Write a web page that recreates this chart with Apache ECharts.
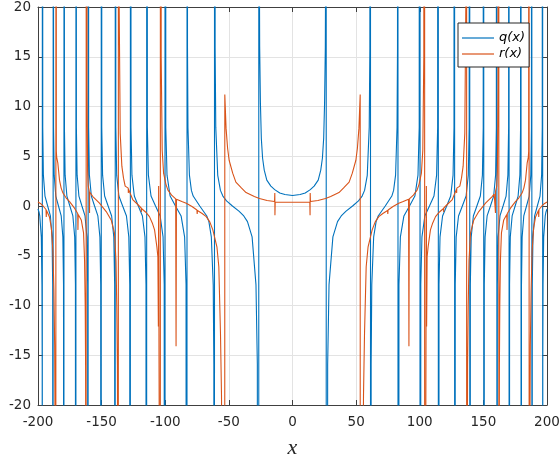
<!DOCTYPE html>
<html><head><meta charset="utf-8">
<script src="https://cdn.jsdelivr.net/npm/echarts@6/dist/echarts.min.js"></script>
<style>html,body{margin:0;padding:0;background:#fff}#c{width:560px;height:460px}</style>
</head><body><div id="c"></div>
<script>
const xTicks = [-200, -150, -100, -50, 0, 50, 100, 150, 200];
const yTicks = [-20, -15, -10, -5, 0, 5, 10, 15, 20];
const seriesNames = ['q(x)', 'r(x)'];

// q(x), x < 0 (+-300 marks a pole jump)
const qNeg = [
[-200,-0.3],[-199.2,-0.6],[-198.6,-1.0],[-197.4,-3.1],[-196.9,-7.9],[-196.7,-16],[-196.62,-300],
[-196.58,300],[-196.27,7.9],[-195.77,3.1],[-194.51,1.0],[-192.40,0],[-190.26,-1.0],[-188.97,-3.1],[-188.45,-7.9],[-188.12,-300],
[-188.08,300],[-187.77,7.9],[-187.27,3.1],[-186.01,1.0],[-183.90,0],[-181.76,-1.0],[-180.47,-3.1],[-179.95,-7.9],[-179.62,-300],
[-179.58,300],[-179.23,7.9],[-178.68,3.1],[-177.30,1.0],[-174.96,0],[-172.60,-1.0],[-171.16,-3.1],[-170.59,-7.9],[-170.22,-300],
[-170.18,300],[-169.83,7.9],[-169.26,3.1],[-167.85,1.0],[-165.47,0],[-163.05,-1.0],[-161.59,-3.1],[-160.99,-7.9],[-160.62,-300],
[-160.58,300],[-160.20,7.9],[-159.60,3.1],[-158.09,1.0],[-155.54,0],[-152.94,-1.0],[-151.36,-3.1],[-150.73,-7.9],[-150.32,-300],
[-150.28,300],[-149.88,7.9],[-149.24,3.1],[-147.63,1.0],[-144.90,0],[-142.13,-1.0],[-140.44,-3.1],[-139.76,-7.9],[-139.32,-300],
[-139.28,300],[-138.84,7.9],[-138.16,3.1],[-136.42,1.0],[-133.48,0],[-130.48,-1.0],[-128.64,-3.1],[-127.90,-7.9],[-127.42,-300],
[-127.38,300],[-126.91,7.9],[-126.18,3.1],[-124.32,1.0],[-121.17,0],[-117.93,-1.0],[-115.94,-3.1],[-115.14,-7.9],[-114.62,-300],
[-114.58,300],[-114.06,7.9],[-113.24,3.1],[-111.18,1.0],[-107.64,0],[-103.99,-1.0],[-101.73,-3.1],[-100.82,-7.9],[-100.22,-300],
[-100.18,300],[-99.57,7.9],[-98.61,3.1],[-96.17,1.0],[-91.96,0],[-87.55,-1.0],[-84.79,-3.1],[-83.66,-7.9],[-82.92,-300],
[-82.88,300],[-82.52,15.9],[-82.15,7.9],[-81.00,3.1],[-79.45,1.57],[-78.06,1.0],[-72.90,0],[-67.35,-1.0],[-65.71,-1.57],[-63.79,-3.1],[-62.31,-7.9],[-61.81,-15.9],[-61.32,-300],
[-61.28,300],[-60.80,15.9],[-60.29,7.9],[-58.75,3.08],[-56.64,1.57],[-54.72,1.0],[-51.85,0.51],[-47.22,0],[-42.09,-0.51],[-38.29,-1.0],[-35.39,-1.57],[-31.75,-3.1],[-28.71,-7.9],[-27.63,-15.9],[-26.52,-300],
[-26.48,300],[-26.2,30],[-25.8,16],[-25.2,10.3],[-24.5,6.8],[-23.5,4.8],[-22.2,3.6],[-20.2,2.6],[-17,2.0],[-14,1.65],[-10,1.3],[-6,1.15],[0,1.05]
];
// q(x), x > 0
const qPos = [
[6,1.15],[10,1.3],[14,1.65],[17,2.0],[20.2,2.6],[22.2,3.6],[23.5,4.8],[24.5,6.8],[25.2,10.3],[25.8,16],[26.2,30],[26.48,300],
[26.52,-300],[27.63,-15.9],[28.71,-7.9],[31.75,-3.1],[35.39,-1.57],[38.29,-1.0],[42.09,-0.51],[47.22,0],[51.85,0.51],[54.72,1.0],[56.64,1.57],[58.75,3.08],[60.29,7.9],[60.80,15.9],[61.28,300],
[61.32,-300],[61.81,-15.9],[62.31,-7.9],[63.79,-3.1],[65.71,-1.57],[67.35,-1.0],[72.90,0],[78.06,1.0],[79.45,1.57],[81.00,3.1],[82.15,7.9],[82.52,15.9],[82.88,300],
[82.92,-300],[83.66,-7.9],[84.79,-3.1],[87.55,-1.0],[91.96,0],[96.17,1.0],[98.61,3.1],[99.57,7.9],[100.18,300],
[100.22,-300],[100.82,-7.9],[101.73,-3.1],[103.99,-1.0],[107.64,0],[111.18,1.0],[113.24,3.1],[114.06,7.9],[114.58,300],
[114.62,-300],[115.14,-7.9],[115.94,-3.1],[117.93,-1.0],[121.17,0],[124.32,1.0],[126.18,3.1],[126.91,7.9],[127.38,300],
[127.42,-300],[127.90,-7.9],[128.64,-3.1],[130.48,-1.0],[133.48,0],[136.42,1.0],[138.16,3.1],[138.84,7.9],[139.28,300],
[139.32,-300],[139.76,-7.9],[140.44,-3.1],[142.13,-1.0],[144.90,0],[147.63,1.0],[149.24,3.1],[149.88,7.9],[150.28,300],
[150.32,-300],[150.73,-7.9],[151.36,-3.1],[152.94,-1.0],[155.54,0],[158.09,1.0],[159.60,3.1],[160.20,7.9],[160.58,300],
[160.62,-300],[160.99,-7.9],[161.59,-3.1],[163.05,-1.0],[165.47,0],[167.85,1.0],[169.26,3.1],[169.83,7.9],[170.18,300],
[170.22,-300],[170.59,-7.9],[171.16,-3.1],[172.60,-1.0],[174.96,0],[177.30,1.0],[178.68,3.1],[179.23,7.9],[179.58,300],
[179.62,-300],[179.95,-7.9],[180.47,-3.1],[181.76,-1.0],[183.90,0],[186.01,1.0],[187.27,3.1],[187.77,7.9],[188.08,300],
[188.12,-300],[188.45,-7.9],[188.97,-3.1],[190.26,-1.0],[192.40,0],[194.51,1.0],[195.77,3.1],[196.27,7.9],[196.58,300],
[196.62,-300],[196.7,-16],[196.9,-7.9],[197.4,-3.1],[198.6,-1.0],[199.2,-0.6],[200,-0.3]
];
// r(x), x < 0
const rNeg = [
[-200,0.4],[-197.5,0.2],[-195.7,-0.05],[-193.7,-0.35],[-193.5,-1.1],[-193.3,-0.45],[-191,-1.1],[-189.5,-2.2],[-188.3,-4.5],[-187.5,-8.5],[-186.9,-14],[-186.5,-25],[-186.1,-300],
[-185.8,300],[-185.6,5.5],[-185.3,4.9],[-184.4,4.3],[-183.1,2.6],[-181.8,1.8],[-180.4,1.3],[-177.8,0.8],[-175.2,0.44],[-171.3,-0.22],[-168.8,-0.75],[-168.6,-2.4],[-168.4,-0.85],[-166,-1.4],[-164.2,-2.7],[-163.4,-5.5],[-162.9,-10],[-162.6,-16],[-162.4,-30],[-162.3,-300],
[-162.0,300],[-161.5,12],[-161.0,3.5],[-160.5,2.0],[-159.8,1.55],[-159.6,1.5],[-159.5,-0.7],[-159.4,1.4],[-158.5,1.2],[-156.9,0.95],[-151.7,0.28],[-146.4,-0.56],[-142.5,-1.4],[-139.9,-2.7],[-138.7,-5.5],[-138.1,-10],[-137.6,-16],[-137.3,-30],[-137.0,-300],
[-136.7,300],[-136.2,20],[-135.4,7.3],[-134.1,4],[-132.8,2.8],[-131.5,2.0],[-130.3,1.85],[-129.1,1.8],[-129.0,1.3],[-128.9,1.7],[-125.4,0.61],[-122,0.2],[-118.9,-0.2],[-118.8,-0.6],[-118.7,-0.25],[-115.5,-0.6],[-112.4,-1.07],[-110.2,-1.7],[-108.4,-2.4],[-106.6,-4.1],[-105.8,-5.1],[-105.4,-12.1],[-105.2,2.0],[-104.9,-15],[-104.3,-40],[-104.0,-300],
[-103.7,300],[-103.2,15],[-102.4,5.6],[-101.3,3.3],[-99.5,2.2],[-97.9,1.6],[-95,1.1],[-91.8,0.72],[-91.5,-14.1],[-91.2,0.68],[-87,0.45],[-83.5,0.28],[-79,-0.05],[-75.1,-0.4],[-74.9,-0.8],[-74.7,-0.45],[-71,-0.75],[-67.8,-1.07],[-65,-1.6],[-62.6,-2.4],[-59.4,-4.1],[-57.9,-6.1],[-56.6,-12.8],[-55.8,-19],[-54.8,-40],[-53.4,-200],
[-53.2,11.2],[-52.2,7.8],[-51,5.8],[-49.8,4.6],[-47,3.3],[-44.5,2.4],[-40,1.8],[-36.5,1.35],[-30,0.95],[-26,0.75],[-20,0.55],[-14.1,0.45],[-13.9,1.3],[-13.8,-0.93],[-13.6,0.4],[-7,0.38],[0,0.38]
];
// r(x), x > 0
const rPos = [
[7,0.38],[13.6,0.4],[13.8,-0.93],[13.9,1.3],[14.1,0.45],[20,0.55],[26,0.75],[30,0.95],[36.5,1.35],[40,1.8],[44.5,2.4],[47,3.3],[49.8,4.6],[51,5.8],[52.2,7.8],[53.2,11.2],
[53.4,-200],[54.8,-40],[55.8,-19],[56.6,-12.8],[57.9,-6.1],[59.4,-4.1],[62.6,-2.4],[65,-1.6],[67.8,-1.07],[71,-0.75],[74.7,-0.45],[74.9,-0.8],[75.1,-0.4],[79,-0.05],[83.5,0.28],[87,0.45],[91.2,0.68],[91.5,-14.1],[91.8,0.72],[95,1.1],[97.9,1.6],[99.5,2.2],[101.3,3.3],[102.4,5.6],[103.2,15],[103.7,300],
[104.0,-300],[104.3,-40],[104.9,-15],[105.2,2.0],[105.4,-12.1],[105.8,-5.1],[106.6,-4.1],[108.4,-2.4],[110.2,-1.7],[112.4,-1.07],[115.5,-0.6],[118.7,-0.25],[118.8,-0.6],[118.9,-0.2],[122,0.2],[125.4,0.61],[128.9,1.7],[129.0,1.3],[129.1,1.8],[130.3,1.85],[131.5,2.0],[132.8,2.8],[134.1,4],[135.4,7.3],[136.2,20],[136.7,300],
[137.0,-300],[137.3,-30],[137.6,-16],[138.1,-10],[138.7,-5.5],[139.9,-2.7],[142.5,-1.4],[146.4,-0.56],[151.7,0.28],[156.9,0.95],[158.5,1.2],[159.4,1.4],[159.5,-0.7],[159.6,1.5],[159.8,1.55],[160.5,2.0],[161.0,3.5],[161.5,12],[162.0,300],
[162.3,-300],[162.4,-30],[162.6,-16],[162.9,-10],[163.4,-5.5],[164.2,-2.7],[166,-1.4],[168.4,-0.85],[168.6,-2.4],[168.8,-0.75],[171.3,-0.22],[175.2,0.44],[177.8,0.8],[180.4,1.3],[181.8,1.8],[183.1,2.6],[184.4,4.3],[185.3,4.9],[185.6,5.5],[185.8,300],
[186.1,-300],[186.5,-25],[186.9,-14],[187.5,-8.5],[188.3,-4.5],[189.5,-2.2],[191,-1.1],[193.3,-0.45],[193.5,-1.1],[193.7,-0.35],[195.7,-0.05],[197.5,0.2],[200,0.4]
];

const qColor = '#0072BD', rColor = '#D95319';
const axisColor = '#404040', textColor = '#262626', gridColor = '#e3e3e3';
const font = 'DejaVu Sans';

function axisBase(extra) {
  return Object.assign({
    type: 'value',
    axisLine: { show: true, onZero: false, lineStyle: { color: axisColor, width: 1 } },
    axisTick: { show: true, inside: true, length: 5, lineStyle: { color: axisColor, width: 1 } }
  }, extra);
}

const chart = echarts.init(document.getElementById('c'), null, { renderer: 'canvas' });
chart.setOption({
  animation: false,
  backgroundColor: '#fff',
  grid: { left: 38, top: 7, width: 509, height: 398, containLabel: false, outerBoundsMode: 'none' },
  xAxis: [
    axisBase({
      min: xTicks[0], max: xTicks[xTicks.length - 1], interval: xTicks[1] - xTicks[0], position: 'bottom',
      axisLabel: { color: textColor, fontSize: 13.5, fontFamily: font, margin: 10 },
      splitLine: { show: true, lineStyle: { color: gridColor, width: 1 } },
      name: 'x', nameLocation: 'middle', nameGap: 32,
      nameTextStyle: { fontFamily: 'Liberation Serif', fontStyle: 'italic', fontSize: 22, color: textColor }
    }),
    axisBase({
      min: xTicks[0], max: xTicks[xTicks.length - 1], interval: xTicks[1] - xTicks[0], position: 'top',
      axisLabel: { show: false }, splitLine: { show: false }
    })
  ],
  yAxis: [
    axisBase({
      min: yTicks[0], max: yTicks[yTicks.length - 1], interval: yTicks[1] - yTicks[0], position: 'left',
      axisLabel: { color: textColor, fontSize: 13.5, fontFamily: font, margin: 7 },
      splitLine: { show: true, lineStyle: { color: gridColor, width: 1 } }
    }),
    axisBase({
      min: yTicks[0], max: yTicks[yTicks.length - 1], interval: yTicks[1] - yTicks[0], position: 'right',
      axisLabel: { show: false }, splitLine: { show: false }
    })
  ],
  legend: {
    data: seriesNames, orient: 'vertical', left: 458, top: 23,
    padding: [8, 4, 6, 4], itemGap: 2, itemWidth: 32, itemHeight: 1.2, icon: 'rect', itemTextGap: 8,
    backgroundColor: '#fff', borderColor: textColor, borderWidth: 1, borderRadius: 0, selectedMode: false,
    textStyle: { fontStyle: 'italic', fontSize: 13, fontFamily: font, color: '#000', lineHeight: 14 }
  },
  series: [
    { type: 'line', name: seriesNames[0], data: qNeg.concat(qPos), xAxisIndex: 0, yAxisIndex: 0,
      symbol: 'none', showSymbol: false, clip: true, lineStyle: { color: qColor, width: 1.1 }, itemStyle: { color: qColor } },
    { type: 'line', name: seriesNames[1], data: rNeg.concat(rPos), xAxisIndex: 0, yAxisIndex: 0,
      symbol: 'none', showSymbol: false, clip: true, lineStyle: { color: rColor, width: 1.1 }, itemStyle: { color: rColor } }
  ]
});
</script>
</body></html>
